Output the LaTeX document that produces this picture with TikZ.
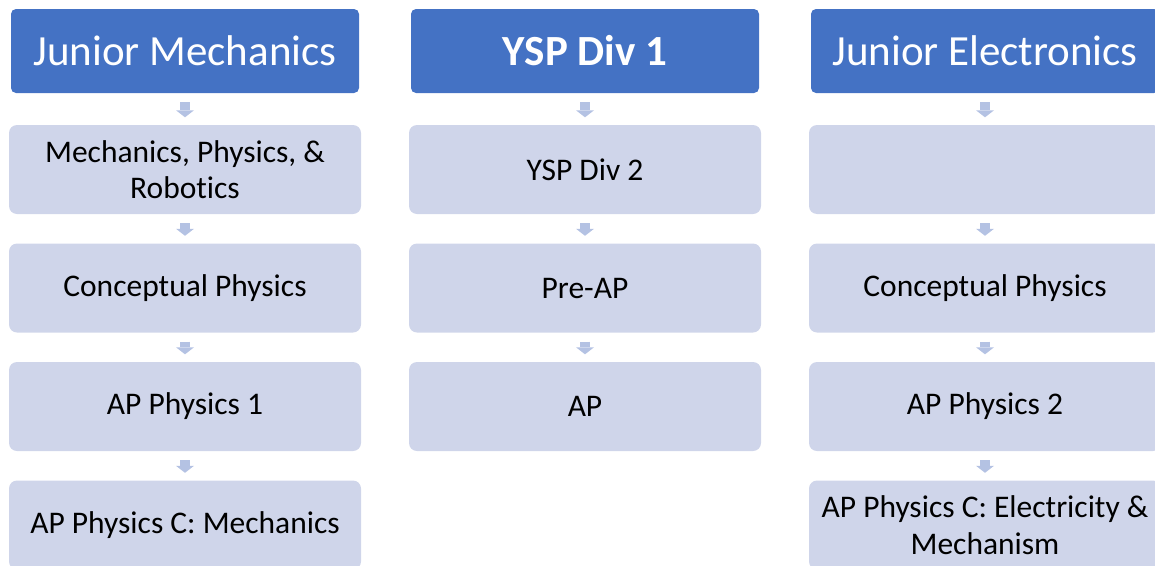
\documentclass[tikz,border=0pt]{standalone}
\usepackage{fontspec}
\setmainfont{Carlito}[Ligatures=CommonOff]
\usepackage{tikz}
\usetikzlibrary{arrows.meta,positioning}
\definecolor{headblue}{HTML}{4472C4}
\definecolor{boxblue}{HTML}{CFD5EA}
\definecolor{arrowblue}{HTML}{B4C2E3}
\tikzset{
	head/.style={rectangle,rounded corners=5pt,fill=headblue,text=white,minimum width=348pt,minimum height=84pt,inner sep=0pt,font=\fontsize{43}{52}\selectfont},
	course/.style={rectangle,rounded corners=8pt,fill=boxblue,text=black,minimum width=352pt,minimum height=89pt,inner sep=0pt,align=center,font=\fontsize{31.5}{36.5}\selectfont},
	flow/.style={-{Triangle[width=18pt,length=7pt,line width=0pt]},color=arrowblue,line width=10pt,shorten <=9pt,shorten >=7.5pt}
}
\begin{document}
\begin{tikzpicture}[x=1pt,y=-1pt]
\clip (0,0) rectangle (1155,565);

    \node[head] (H1) at (185,51) {Junior Mechanics};
    \node[head] (H2) at (585,51) {\bfseries YSP Div 1};
    \node[head] (H3) at (985,51) {Junior Electronics};

    \node[course] (M1) at (185,169.5) {Mechanics, Physics, \&\\Robotics};
    \node[course] (M2) at (185,288) {Conceptual Physics};
    \node[course] (M3) at (185,406.5) {AP Physics 1};
    \node[course] (M4) at (185,525) {AP Physics C: Mechanics};

    \node[course] (Y1) at (585,169.5) {YSP Div 2};
    \node[course] (Y2) at (585,288) {Pre-AP};
    \node[course] (Y3) at (585,406.5) {AP};

    \node[course] (E1) at (985,169.5) {};
    \node[course] (E2) at (985,288) {Conceptual Physics};
    \node[course] (E3) at (985,406.5) {AP Physics 2};
    \node[course] (E4) at (985,525) {AP Physics C: Electricity \&\\Mechanism};

    \draw[flow] (H1) -- (M1);
    \draw[flow] (M1) -- (M2);
    \draw[flow] (M2) -- (M3);
    \draw[flow] (M3) -- (M4);

    \draw[flow] (H2) -- (Y1);
    \draw[flow] (Y1) -- (Y2);
    \draw[flow] (Y2) -- (Y3);

    \draw[flow] (H3) -- (E1);
    \draw[flow] (E1) -- (E2);
    \draw[flow] (E2) -- (E3);
    \draw[flow] (E3) -- (E4);
\end{tikzpicture}
\end{document}
